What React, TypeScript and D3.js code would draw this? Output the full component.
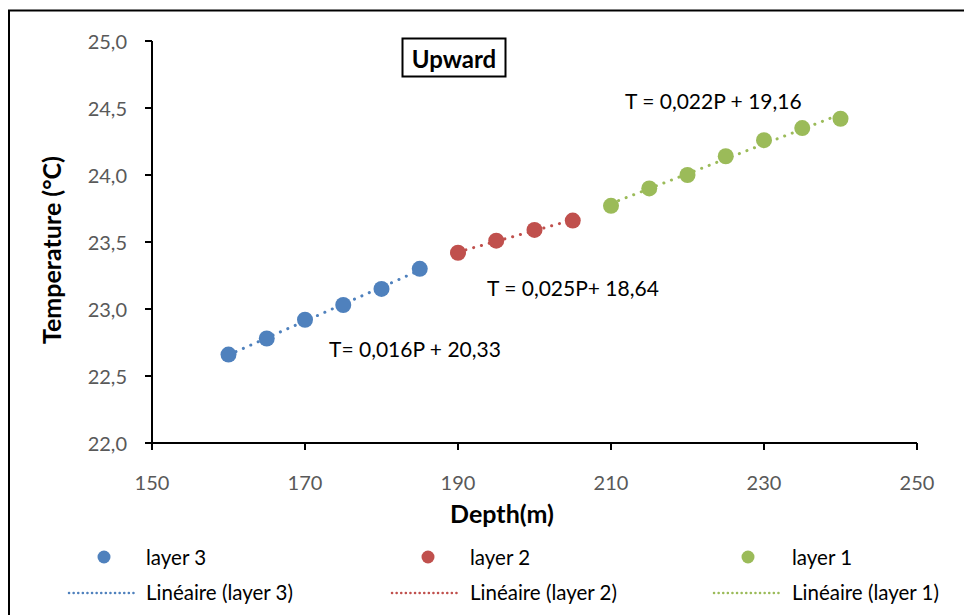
import React from "react";
import * as d3 from "d3";

const layer3Depth = [160, 165, 170, 175, 180, 185];
const layer3Temp = [22.66, 22.78, 22.92, 23.03, 23.15, 23.3];
const layer2Depth = [190, 195, 200, 205];
const layer2Temp = [23.42, 23.51, 23.59, 23.66];
const layer1Depth = [210, 215, 220, 225, 230, 235, 240];
const layer1Temp = [23.77, 23.9, 24.0, 24.14, 24.26, 24.35, 24.42];
const xTicks = [150, 170, 190, 210, 230, 250];
const yTicks = [22.0, 22.5, 23.0, 23.5, 24.0, 24.5, 25.0];
const seriesNames = ["layer 3", "layer 2", "layer 1"];
const equations = ["T= 0,016P + 20,33", "T = 0,025P+ 18,64", "T = 0,022P + 19,16"];

const colors = ["#4F81BD", "#C0504D", "#9BBB59"];
const FONT = "Lato, 'Open Sans', sans-serif";

function fit(xs: number[], ys: number[]) {
  const mx = d3.mean(xs)!;
  const my = d3.mean(ys)!;
  let num = 0, den = 0;
  xs.forEach((x, i) => {
    num += (x - mx) * (ys[i] - my);
    den += (x - mx) * (x - mx);
  });
  const b = num / den;
  const a = my - b * mx;
  return (x: number) => a + b * x;
}

export default function App() {
  const W = 964, H = 615;
  const x = d3.scaleLinear().domain([150, 250]).range([152, 917]);
  const y = d3.scaleLinear().domain([22, 25]).range([443, 41]);
  const series = [
    { xs: layer3Depth, ys: layer3Temp },
    { xs: layer2Depth, ys: layer2Temp },
    { xs: layer1Depth, ys: layer1Temp },
  ];
  const eqPos = [
    { x: 329, y: 348 },
    { x: 487, y: 287 },
    { x: 625, y: 100 },
  ];
  const legendCols = [
    { dot: 104, text: 146, line0: 69, line1: 134 },
    { dot: 428, text: 470, line0: 392, line1: 458 },
    { dot: 748, text: 792, line0: 714, line1: 779 },
  ];
  const lineGen = d3.line<number[]>().x((d) => x(d[0])).y((d) => y(d[1]));
  const fmt = (v: number) => v.toFixed(1).replace(".", ",");

  return (
    <svg
      width={W}
      height={H}
      style={{ position: "absolute", left: 0, top: 0, background: "#fff" }}
      fontFamily={FONT}
    >
      <rect x={0} y={0} width={W} height={H} fill="#fff" />
      <path d={`M9,${H + 5} V10.5 H${W + 5}`} fill="none" stroke="#000" strokeWidth={2} />

      {/* axes */}
      <line x1={x(150)} x2={x(150)} y1={y(25)} y2={y(22)} stroke="#000" strokeWidth={2} />
      <line x1={x(150)} x2={x(250)} y1={y(22)} y2={y(22)} stroke="#000" strokeWidth={2} />
      {yTicks.map((t) => (
        <g key={"y" + t}>
          <line x1={x(150) - 7} x2={x(150)} y1={y(t)} y2={y(t)} stroke="#000" strokeWidth={2} />
          <text x={127} y={y(t)} textAnchor="end" dominantBaseline="central" fontSize={20} fill="#595959">
            {fmt(t)}
          </text>
        </g>
      ))}
      {xTicks.map((t) => (
        <g key={"x" + t}>
          <line x1={x(t)} x2={x(t)} y1={y(22)} y2={y(22) + 7} stroke="#000" strokeWidth={2} />
          <text x={x(t)} y={482} textAnchor="middle" dominantBaseline="central" fontSize={20} fill="#595959">
            {t}
          </text>
        </g>
      ))}

      <text x={502} y={513} textAnchor="middle" dominantBaseline="central" fontSize={25} fontWeight="bold" fill="#000">
        Depth(m)
      </text>
      <text
        transform={`translate(51,250) rotate(-90)`}
        textAnchor="middle"
        dominantBaseline="central"
        fontSize={25}
        fontWeight="bold"
        fill="#000"
      >
        Temperature (°C)
      </text>

      {/* title box */}
      <rect x={402.5} y={38.5} width={103} height={38} fill="#fff" stroke="#000" strokeWidth={2} />
      <text x={454} y={58} textAnchor="middle" dominantBaseline="central" fontSize={24} fontWeight="bold">
        Upward
      </text>

      {/* trend lines */}
      {series.map((s, i) => {
        const f = fit(s.xs, s.ys);
        const x0 = d3.min(s.xs)!, x1 = d3.max(s.xs)!;
        return (
          <path
            key={"t" + i}
            d={lineGen([[x0, f(x0)], [x1, f(x1)]])!}
            fill="none"
            stroke={colors[i]}
            strokeWidth={3}
            strokeDasharray="0.1 8"
            strokeLinecap="round"
          />
        );
      })}
      {/* points */}
      {series.map((s, i) =>
        s.xs.map((xv, j) => (
          <circle key={`p${i}-${j}`} cx={x(xv)} cy={y(s.ys[j])} r={8} fill={colors[i]} />
        ))
      )}

      {equations.map((e, i) => (
        <text key={"e" + i} x={eqPos[i].x} y={eqPos[i].y} dominantBaseline="central" fontSize={21} fill="#000">
          {e}
        </text>
      ))}

      {/* legend */}
      {seriesNames.map((n, i) => (
        <g key={"l" + i}>
          <circle cx={legendCols[i].dot} cy={557} r={6.5} fill={colors[i]} />
          <text x={legendCols[i].text} y={557} dominantBaseline="central" fontSize={20.5} fill="#000">
            {n}
          </text>
          <line
            x1={legendCols[i].line0}
            x2={legendCols[i].line1}
            y1={593}
            y2={593}
            stroke={colors[i]}
            strokeWidth={2.5}
            strokeDasharray="0.1 4.5"
            strokeLinecap="round"
          />
          <text x={legendCols[i].text} y={592} dominantBaseline="central" fontSize={20.5} fill="#000">
            {"Linéaire (" + n + ")"}
          </text>
        </g>
      ))}
    </svg>
  );
}
